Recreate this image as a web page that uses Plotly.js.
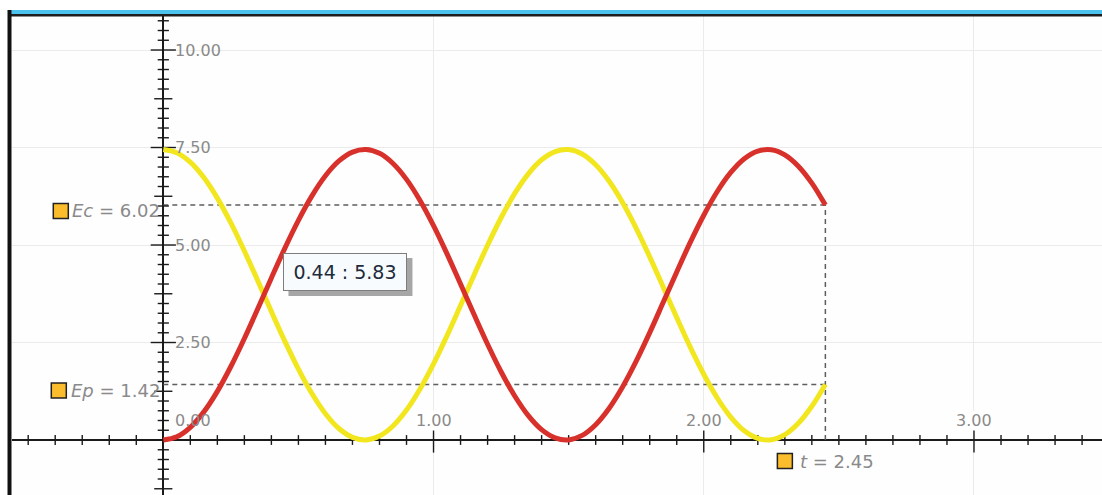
<!DOCTYPE html>
<html><head><meta charset="utf-8">
<script src="https://cdn.plot.ly/plotly-3.0.1.min.js"></script>
<style>html,body{margin:0;padding:0;background:#fff;overflow:hidden}#chart{width:1102px;height:495px}</style>
</head><body><div id="chart"></div>
<script>
// ---- data ----
const tVals = [0,0.05,0.10,0.15,0.20,0.25,0.30,0.35,0.40,0.45,0.50,0.55,0.60,0.65,0.70,0.75,0.80,0.85,0.90,0.95,
  1.00,1.05,1.10,1.15,1.20,1.25,1.30,1.35,1.40,1.45,1.50,1.55,1.60,1.65,1.70,1.75,1.80,1.85,1.90,1.95,
  2.00,2.05,2.10,2.15,2.20,2.25,2.30,2.35,2.40,2.45];
const ecVals = [0,0.082,0.326,0.721,1.248,1.885,2.604,3.371,4.156,4.921,5.632,6.259,6.775,7.155,7.383,7.449,7.350,7.091,6.683,6.143,
  5.497,4.773,3.999,3.217,2.456,1.751,1.134,0.631,0.265,0.053,0.003,0.118,0.393,0.816,1.367,2.022,2.753,3.530,4.310,5.068,
  5.764,6.372,6.861,7.214,7.409,7.443,7.312,7.021,6.586,6.023];
const epVals = [7.45,7.368,7.124,6.729,6.202,5.565,4.846,4.079,3.294,2.529,1.818,1.191,0.675,0.295,0.067,0.001,0.100,0.359,0.767,1.307,
  1.953,2.677,3.451,4.233,4.994,5.699,6.316,6.819,7.185,7.397,7.447,7.332,7.057,6.634,6.083,5.428,4.697,3.920,3.140,2.382,
  1.686,1.078,0.589,0.236,0.041,0.007,0.138,0.429,0.864,1.424];
const yTickValues = [2.5,5,7.5,10];
const xTickValues = [1,2,3];
const originLabel = 0;
const tipText = "0.44 : 5.83";
const tipPos = [0.674, 4.31];

// ---- layout helpers ----
const W = 1102, H = 495, ML = 12, MT = 16;
const X_RANGE = [-0.5599, 3.4737], Y_RANGE = [-1.410, 10.872];
const px2x = p => (p - ML) / (W - ML);
const py2y = p => (H - p) / (H - MT);
const FONT = "DejaVu Sans";
const GREY = "#8a8a8a";

const tEnd = tVals[tVals.length-1];
const ecEnd = ecVals[ecVals.length-1];
const epEnd = epVals[epVals.length-1];

// tick positions along axes
const xMinor = [], yMinor = [], yMid = [];
for (let i = Math.ceil(X_RANGE[0]*10); i <= Math.floor(X_RANGE[1]*10); i++) { if (i % 10 !== 0) xMinor.push(i/10); }
const xMajor = [];
for (let i = Math.ceil(X_RANGE[0]); i <= Math.floor(X_RANGE[1]); i++) xMajor.push(i);
const yMajor = [];
for (let i = Math.ceil(Y_RANGE[0]*4); i <= Math.floor(Y_RANGE[1]*4); i++) {
  const v = i/4;
  if (i % 10 === 0) yMajor.push(v); else if (i % 5 === 0) yMid.push(v); else yMinor.push(v);
}

const tickMarker = (sym, size) => ({symbol: sym, size: size, color: "#1a1a1a", line: {color: "#1a1a1a", width: 1.4}});
const dashLine = {color: "#5e5e5e", width: 1.5, dash: "5px,4px"};

const traces = [
  {x: [0, tEnd], y: [ecEnd, ecEnd], mode: "lines", line: dashLine},
  {x: [0, tEnd], y: [epEnd, epEnd], mode: "lines", line: dashLine},
  {x: [tEnd, tEnd], y: [0, ecEnd], mode: "lines", line: dashLine},
  {x: xMinor, y: xMinor.map(() => 0), mode: "markers", marker: tickMarker("line-ns-open", 7)},
  {x: xMajor, y: xMajor.map(() => 0), mode: "markers", marker: tickMarker("line-ns-open", 18)},
  {x: yMinor.map(() => 0), y: yMinor, mode: "markers", marker: tickMarker("line-ew-open", 8)},
  {x: yMid.map(() => 0), y: yMid, mode: "markers", marker: tickMarker("line-ew-open", 13)},
  {x: yMajor.map(() => 0), y: yMajor, mode: "markers", marker: tickMarker("line-ew-open", 18)},
  {x: tVals, y: epVals, mode: "lines", line: {color: "#f2e61e", width: 5, shape: "spline"}},
  {x: tVals, y: ecVals, mode: "lines", line: {color: "#d8312b", width: 5, shape: "spline"}}
];

const annotations = [];
yTickValues.forEach(v => annotations.push({x: 0, y: v, xref: "x", yref: "y", text: v.toFixed(2), showarrow: false,
  xanchor: "left", yanchor: "middle", xshift: 11, borderpad: 0,
  font: {family: FONT, size: 16, color: GREY}}));
xTickValues.forEach(v => annotations.push({x: v, y: 0, xref: "x", yref: "y", text: v.toFixed(2), showarrow: false,
  xanchor: "center", yanchor: "middle", yshift: 20, bgcolor: "#ffffff", borderpad: 0,
  font: {family: FONT, size: 16, color: GREY}}));
annotations.push({x: originLabel, y: 0, xref: "x", yref: "y", text: originLabel.toFixed(2), showarrow: false,
  xanchor: "center", yanchor: "middle", xshift: 30, yshift: 20, font: {family: FONT, size: 16, color: GREY}});
// value labels
annotations.push({x: 0, y: ecEnd, xref: "x", yref: "y", text: "<i>Ec</i> = " + ecEnd.toFixed(2), showarrow: false,
  xanchor: "right", yanchor: "middle", xshift: -1, yshift: -5, font: {family: FONT, size: 18, color: GREY}});
annotations.push({x: 0, y: epEnd, xref: "x", yref: "y", text: "<i>Ep</i> = " + epEnd.toFixed(2), showarrow: false,
  xanchor: "right", yanchor: "middle", xshift: -1, yshift: -6, font: {family: FONT, size: 18, color: GREY}});
annotations.push({x: tEnd, y: 0, xref: "x", yref: "y", text: "<i>t</i> = " + tEnd.toFixed(2), showarrow: false,
  xanchor: "left", yanchor: "middle", xshift: -27, yshift: -21, font: {family: FONT, size: 18, color: GREY}});
// tooltip box
annotations.push({x: tipPos[0], y: tipPos[1], xref: "x", yref: "y", text: tipText, showarrow: false,
  width: 112, height: 26, borderpad: 5, bgcolor: "#f8fbfd", bordercolor: "#7d7d7d", borderwidth: 1,
  font: {family: FONT, size: 19, color: "#1d2b3b"}});

const sq = (xa, ya, x0, x1, yc) => ({type: "rect", xref: "x", yref: "y", xsizemode: "pixel", ysizemode: "pixel",
  xanchor: xa, yanchor: ya, x0: x0, x1: x1, y0: yc - 7.5, y1: yc + 7.5,
  fillcolor: "#fbbd2c", line: {color: "#222", width: 1.5}, layer: "above"});

const shapes = [
  {type: "rect", xref: "paper", yref: "paper", x0: px2x(9), x1: px2x(W), y0: py2y(14), y1: py2y(10), fillcolor: "#4cc3ee", line: {width: 0}},
  {type: "rect", xref: "paper", yref: "paper", x0: px2x(9), x1: px2x(W), y0: py2y(16.5), y1: py2y(14), fillcolor: "#1e1e1e", line: {width: 0}},
  {type: "rect", xref: "paper", yref: "paper", x0: px2x(7.5), x1: px2x(11.5), y0: py2y(H), y1: py2y(10), fillcolor: "#111", line: {width: 0}},
  // tooltip drop shadow
  {type: "rect", xref: "x", yref: "y", xsizemode: "pixel", ysizemode: "pixel", xanchor: tipPos[0], yanchor: tipPos[1],
    x0: -57, x1: 67, y0: -24, y1: 14, fillcolor: "rgba(60,60,60,0.45)", line: {width: 0}, layer: "above"},
  sq(0, ecEnd, -110, -95, -6),
  sq(0, epEnd, -112, -97, -6),
  sq(tEnd, 0, -48, -33, -21)
];

const layout = {
  width: W, height: H, margin: {l: ML, r: 0, t: MT, b: 0, pad: 0},
  paper_bgcolor: "#ffffff", plot_bgcolor: "#fefefe",
  showlegend: false, hovermode: false,
  xaxis: {range: X_RANGE, dtick: 1, tick0: 0, showgrid: true, gridcolor: "#ebebeb", gridwidth: 1,
    zeroline: true, zerolinecolor: "#1a1a1a", zerolinewidth: 2, showticklabels: false, ticks: "", showline: false, fixedrange: true},
  yaxis: {range: Y_RANGE, dtick: 2.5, tick0: 0, showgrid: true, gridcolor: "#ebebeb", gridwidth: 1,
    zeroline: true, zerolinecolor: "#1a1a1a", zerolinewidth: 2, showticklabels: false, ticks: "", showline: false, fixedrange: true},
  annotations: annotations, shapes: shapes
};
Plotly.newPlot("chart", traces, layout, {displayModeBar: false, staticPlot: true});
</script></body></html>
